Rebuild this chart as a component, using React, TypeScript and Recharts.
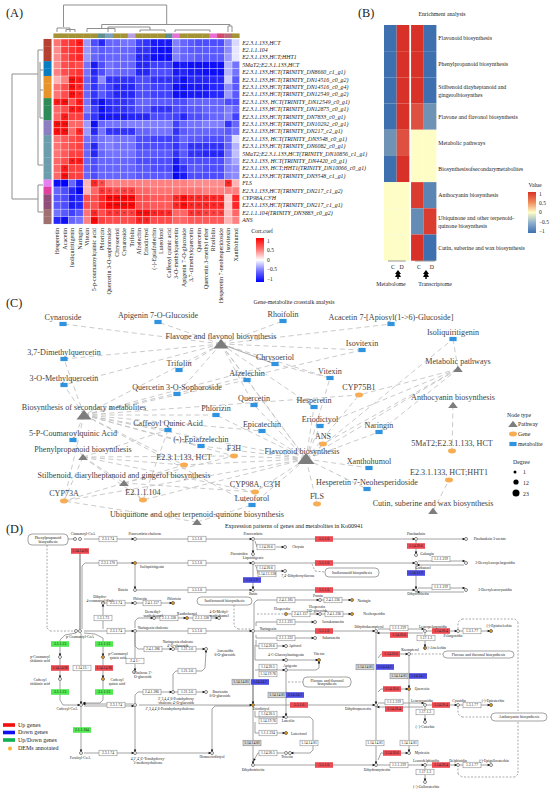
import { ReactNode } from 'react';
import { ReferenceLine, Scatter, ScatterChart, XAxis, YAxis } from 'recharts';

const SERIF = '"Liberation Serif", "Times New Roman", serif';
const CELL_W = 7.44;
const CELL_H = 7.4;

// ---- panel A: correlation heatmap
const metaboliteNames = [
  'Hesperetin', 'Acacetin', 'Isoliquiritigenin', 'Naringin', 'Vitexin', '5-p-coumaroylquinic acid', 'Phlorizin',
  'Quercetin 3-O-sophoroside', 'Chrysoeriol', 'Cynaroside', 'Trifolin', 'Afzelechin', 'Eriodictyol',
  '(-)-Epiafzelechin', 'Luteoforol', 'Caffeoyl quinic acid', '3-O-methylquercetin', 'Apigenin 7-O-glucoside',
  '3,7-dimethylquercetin', 'Quercetin', 'Quercetin 3-methyl ether', 'Rhoifolin', 'Hesperetin 7-neohesperidoside',
  'Isovitexin', 'Xanthohumol',
];
const geneNames = [
  'E2.3.1.133,HCT', 'E2.1.1.104', 'E2.3.1.133,HCT;HHT1', '5MaT2;E2.3.1.133,HCT',
  'E2.3.1.133,HCT(TRINITY_DN8660_c1_g1)', 'E2.3.1.133,HCT(TRINITY_DN14516_c0_g2)',
  'E2.3.1.133,HCT(TRINITY_DN14516_c0_g4)', 'E2.3.1.133,HCT(TRINITY_DN12549_c0_g2)',
  'E2.3.1.133, HCT(TRINITY_DN12549_c0_g1)', 'E2.3.1.133,HCT(TRINITY_DN12875_c0_g1)',
  'E2.3.1.133,HCT(TRINITY_DN7833_c0_g1)', 'E2.3.1.133,HCT(TRINITY_DN10292_c0_g1)',
  'E2.3.1.133,HCT(TRINITY_DN217_c2_g1)', 'E2.3.1.133, HCT(TRINITY_DN3548_c0_g1)',
  'E2.3.1.133,HCT(TRINITY_DN6082_c0_g1)', '5MaT2;E2.3.1.133,HCT(TRINITY_DN10856_c1_g1)',
  'E2.3.1.133, HCT(TRINITY_DN4420_c0_g1)', 'E2.3.1.133, HCT;HHT1(TRINITY_DN10066_c0_g1)',
  'E2.3.1.133,HCT(TRINITY_DN3548_c1_g1)', 'FLS', 'E2.3.1.133,HCT(TRINITY_DN217_c1_g2)', "CYP98A,C3'H",
  'E2.3.1.133,HCT(TRINITY_DN217_c1_g1)', 'E2.1.1.104(TRINITY_DN3883_c0_g2)', 'ANS',
];
const corrRows = [
  [.55, .75, .8, .9, -.4, -.7, -.85, -.6, -.6, -.55, -.55, -.75, -.8, -.9, -.9, -.9, -.5, -.6, -.65, -.7, -.7, -.7, -.7, -.45, -.15],
  [.45, .75, .8, .85, -.4, -.6, -.65, -.6, -.6, -.6, -.6, -.8, -.8, -.9, -.95, -.95, -.5, -.6, -.65, -.65, -.65, -.65, -.65, -.45, -.1],
  [.45, .7, .8, .85, -.4, -.6, -.65, -.6, -.6, -.6, -.6, -.85, -.85, -.95, -.95, -.95, -.5, -.6, -.6, -.65, -.65, -.65, -.65, -.4, -.1],
  [.45, .7, .75, .7, -.55, -.9, -.7, -.55, -.6, -.6, -.6, -.85, -.85, -.75, -.75, -.75, -.95, -.9, -.95, -.95, -.95, -.95, -.95, -.3, -.55],
  [.5, .7, .75, .8, -.55, -.85, -.7, -.55, -.6, -.6, -.6, -.85, -.85, -.7, -.7, -.7, -.9, -.85, -.9, -.9, -.95, -.95, -.95, -.3, -.55],
  [.3, .5, .95, .9, -.6, -.8, -.45, -.8, -.8, -.8, -.8, -.7, -.7, -.8, -.8, -.8, -.85, -.95, -.85, -.85, -.85, -.85, -.85, -.2, -.65],
  [.55, .7, .95, .85, -.6, -.8, -.65, -.75, -.85, -.85, -.85, -.7, -.7, -.75, -.75, -.75, -.95, -.95, -.9, -.9, -.9, -.85, -.85, -.45, -.65],
  [.55, .7, .95, .85, -.6, -.8, -.65, -.75, -.85, -.85, -.85, -.7, -.7, -.75, -.75, -.75, -.95, -.95, -.9, -.9, -.9, -.85, -.85, -.4, -.65],
  [.9, .95, .7, .9, -.55, -.85, -.95, -.8, -.8, -.8, -.75, -.6, -.6, -.65, -.65, -.65, -.7, -.7, -.6, -.6, -.6, -.6, -.6, -.7, -.7],
  [.6, .7, .9, .9, -.5, -.75, -.95, -.85, -.8, -.8, -.75, -.65, -.65, -.8, -.8, -.8, -.7, -.7, -.65, -.65, -.6, -.6, -.6, -.5, -.6],
  [.6, .9, .75, .75, -.65, -.8, -.95, -.9, -.9, -.9, -.85, -.85, -.85, -.7, -.7, -.7, -.75, -.85, -.7, -.7, -.65, -.6, -.6, -.5, -.75],
  [.95, .95, .6, .6, -.4, -.95, -.6, -.55, -.55, -.55, -.5, -.5, -.5, -.5, -.5, -.5, -.75, -.6, -.55, -.55, -.5, -.5, -.5, -.8, -.6],
  [.95, .95, .6, .85, -.4, -.85, -.55, -.8, -.8, -.8, -.8, -.6, -.6, -.55, -.55, -.55, -.8, -.65, -.6, -.6, -.6, -.6, -.6, -.65, -.55],
  [.55, .65, .7, .75, -.55, -.65, -.55, -.5, -.55, -.55, -.55, -.7, -.7, -.75, -.75, -.75, -.75, -.6, -.65, -.65, -.7, -.7, -.7, -.6, -.15],
  [.55, .65, .7, .75, -.6, -.85, -.55, -.5, -.55, -.55, -.55, -.7, -.7, -.7, -.7, -.7, -.8, -.65, -.8, -.8, -.8, -.8, -.8, -.6, -.3],
  [.55, .65, .75, .75, -.6, -.85, -.6, -.55, -.55, -.55, -.55, -.65, -.65, -.65, -.65, -.65, -.8, -.65, -.8, -.8, -.85, -.85, -.85, -.55, -.25],
  [.6, .7, .9, .9, -.6, -.7, -.6, -.6, -.6, -.6, -.6, -.7, -.7, -.7, -.7, -.7, -.9, -.7, -.7, -.7, -.7, -.7, -.7, -.5, -.35],
  [.6, .9, .75, .75, -.6, -.7, -.6, -.6, -.6, -.6, -.6, -.65, -.65, -.7, -.7, -.7, -.95, -.8, -.65, -.65, -.7, -.7, -.7, -.5, -.45],
  [.6, .95, .75, .75, -.6, -.7, -.6, -.6, -.6, -.6, -.6, -.65, -.65, -.65, -.65, -.65, -.98, -.9, -.7, -.7, -.7, -.7, -.7, -.5, -.45],
  [-.95, -1, -.6, -.9, .3, .85, .7, .5, .5, .5, .5, .5, .5, .5, .5, .5, .5, .5, .45, .45, .45, .45, .45, .85, .3],
  [-.6, -.7, -.85, -1, .3, .6, .8, .75, .7, .75, .75, .6, .6, .55, .55, .55, .55, .55, .55, .55, .5, .5, .5, .5, .5],
  [-.65, -.7, -.9, -.85, .7, .7, .85, .98, .98, .98, .98, .7, .7, .65, .65, .65, .85, .95, .85, .85, .85, .85, .85, .2, .85],
  [-.65, -.7, -.9, -.85, .7, .7, .85, .98, .98, .98, .98, .7, .7, .65, .65, .65, .85, .95, .85, .85, .85, .85, .85, .2, .85],
  [-.55, -.65, -.75, -.65, .55, .85, .7, .8, .8, .75, .75, .95, .95, .85, .85, .85, .6, .6, .8, .8, .75, .75, .75, .25, .6],
  [-.85, -.95, -.6, -.55, .5, .98, .75, .7, .7, .7, .7, .85, .85, .7, .7, .7, .6, .6, .65, .65, .65, .65, .65, .3, .5],
];
// number of significance stars per cell
const starRows = [
  '0001001000000111000000000', '0000000000011111000000000', '0000000000011111000000000',
  '0000010000011000111111100', '0000010000011000111111100', '0031000111100111121111100',
  '0021000011100000121110000', '0021000011100000121110000', '1201012111100000000000000',
  '0011002111100111000000000', '0100002222111000010000000', '2200020000000000000000000',
  '1201010111100000100000000', '0000000000000000000000000', '0000020000000000001111100',
  '0000010000000000101111100', '0011000000000000100000000', '0100000000000000110000000',
  '0200000000000000310000000', '1001011000000000000000010', '0012001111100000000000000',
  '0011000222200000121111100', '0011000333300000121111100', '0000010111122111001111100',
  '0100020000011000000000000',
];
const rowGroupColors = [
  '#b5402f', '#b5402f', '#b5402f', '#0a7cc0', '#0a7cc0', '#e8932a', '#e8932a', '#e8932a', '#2e8b57', '#2e8b57', '#2e8b57',
  '#8a7fc0', '#8a7fc0', '#6d9dad', '#6d9dad', '#6d9dad', '#6d9dad', '#6d9dad', '#6d9dad', '#e680f0', '#e040a0',
  '#8f4f7a', '#8f4f7a', '#a06f70', '#a06f70',
];
const OL = '#a39335';
const colGroupColors = [
  OL, OL, OL, OL, OL, OL, '#5f8f8f', '#7f9fc0', OL, OL, '#b9a0e0', OL, OL, OL, OL, '#5f8f8f', '#e870d8', OL, OL, OL, OL,
  '#e870d0', '#d04a6a', '#b86a7a', OL,
];
const dendroPaths = [
  [[63.5, 27], [63.5, 5], [166.7, 5], [166.7, 24.5]],
  [[57, 32], [57, 28], [70, 28], [70, 32]], [[66, 32], [66, 29.5], [75, 29.5], [75, 32]],
  [[101.7, 28.5], [101.7, 24.5], [230, 24.5], [230, 26]], [[87, 32], [87, 28.5], [115, 28.5], [115, 32]],
  [[108, 32], [108, 27], [150, 27], [150, 30]], [[140, 32], [140, 30], [165, 30], [165, 32]],
  [[175, 32], [175, 30], [210, 30], [210, 32]], [[228, 32], [228, 26], [232, 26], [232, 32]],
  [[38, 74], [12, 74], [12, 199], [38, 199]],
  [[38, 50], [38, 165]], [[38, 50], [43, 50]], [[38, 165], [43, 165]], [[40, 70], [43, 70]], [[40, 62], [40, 118]],
  [[40, 90], [43, 90]], [[40, 118], [43, 118]], [[38, 185], [38, 212]], [[38, 185], [43, 185]], [[38, 212], [43, 212]],
];

// ---- panel B: enrichment heatmap
const pathwayNames = [
  'Flavonoid biosynthesis', 'Phenylpropanoid biosynthesis', 'Stilbenoid diayheptanoid and\ngingerolbiosynthes',
  'Flavone and flavonol biosynthesis', 'Metabolic pathways', 'Biosynthesisofsecondarymetabolites',
  'Anthocyanin biosynthesis', 'Ubiquinone and other terpenoid-\nquinone biosynthesis', 'Cutin, suberine and wax biosynthesis',
];
const metabolomeC = [-1, -1, -1, -1, -.75, -1, 0, 0, 0];
const metabolomeD = [1, 1, 1, 1, .85, 1, 0, 0, 0];
const transcriptomeC = [1, 1, 1, .85, 0, 0, .95, -.8, 1];
const transcriptomeD = [-1, -1, -1, -.75, 0, 0, -.85, .95, -1];
const enrichColumns = [metabolomeC, metabolomeD, transcriptomeC, transcriptomeD];
const enrichColX = [.5, 1.5, 2.64, 3.64];
const enrichTickX = [.7, 1.4, 2.77, 3.79];
const enrichTickNames = ['C', 'D', 'C', 'D'];

// ---- panel C: network, [key, label, x, y]
const netMetabolites: [string, string, number, number][] = [
  ['cyn', 'Cynaroside', 63, 324], ['api', 'Apigenin 7-O-Glucoside', 158, 322], ['dmq', '3,7-Dimethylquercetin', 64, 359],
  ['tri', 'Trifolin', 179, 370], ['omq', '3-O-Methylquercetin', 64, 385], ['qso', 'Quercetin 3-O-Sophoroside', 177, 394],
  ['afz', 'Afzelechin', 247, 380], ['que', 'Quercetin', 254, 405], ['phl', 'Phlorizin', 216, 415],
  ['caf', 'Caffeoyl Quinic Acid', 168, 430], ['epi', 'Epicatechin', 262, 431], ['pcq', '5-P-Coumaroylquinic Acid', 73, 440],
  ['epz', '(-)-Epiafzelechin', 201, 446], ['luf', 'Luteoforol', 252, 505], ['rho', 'Rhoifolin', 283, 321],
  ['aca', 'Acacetin 7-[Apiosyl(1->6)-Glucoside]', 391, 324], ['isl', 'Isoliquiritigenin', 453, 339], ['isv', 'Isovitexin', 362, 350],
  ['chr', 'Chrysoeriol', 275, 364], ['vit', 'Vitexin', 330, 378], ['hes', 'Hesperetin', 314, 407],
  ['eri', 'Eriodictyol', 320, 426], ['nar', 'Naringin', 379, 432], ['xan', 'Xanthohumol', 369, 468],
  ['hnp', 'Hesperetin 7-Neohesperidoside', 367, 489],
];
const netGenes: [string, string, number, number][] = [
  ['c75', 'CYP75B1', 359, 395], ['ans', 'ANS', 323, 444], ['mat', '5MaT2;E2.3.1.133, HCT', 452, 451],
  ['hht', 'E2.3.1.133, HCT;HHT1', 449, 480], ['fls', 'FLS', 317, 504], ['f3h', 'F3H', 234, 456],
  ['hct', 'E2.3.1.133, HCT', 184, 465], ['c98', "CYP98A, C3'H", 255, 492], ['e04', 'E2.1.1.104', 143, 500],
  ['c73', 'CYP73A', 64, 501],
];
const netPathways: [string, string, number, number][] = [
  ['fla', 'Flavone and flavonol biosynthesis', 221, 344], ['bio', 'Biosynthesis of secondary metabolites', 84, 415],
  ['phe', 'Phenylpropanoid biosynthesis', 83, 457], ['sti', 'Stilbenoid, diarylheptanoid and gingerol biosynthesis', 124, 483],
  ['flo', 'Flavonoid biosynthesis', 306, 459], ['met', 'Metabolic pathways', 458, 369],
  ['ant', 'Anthocyanin biosynthesis', 453, 405], ['cut', 'Cutin, suberine and wax biosynthesis', 433, 511],
  ['ubi', 'Ubiquinone and other terpenoid-quinone biosynthesis', 197, 522],
];
const netEdges = [
  'fla-cyn', 'fla-api', 'fla-dmq', 'fla-omq', 'fla-tri', 'fla-qso', 'fla-afz', 'fla-rho', 'fla-aca', 'fla-que', 'fla-vit',
  'fla-bio', 'fla-hes', 'fla-isv', 'bio-dmq', 'bio-omq', 'bio-afz', 'bio-phl', 'bio-caf', 'bio-epi', 'bio-epz', 'bio-pcq',
  'bio-isv', 'bio-f3h', 'bio-hct', 'bio-chr', 'bio-c75', 'bio-flo', 'bio-c73', 'bio-luf', 'phe-c73', 'phe-pcq', 'phe-caf',
  'phe-e04', 'phe-sti', 'phe-c98', 'phe-hct', 'phe-f3h', 'sti-e04', 'sti-hct', 'sti-c98', 'sti-c73', 'sti-f3h', 'caf-e04',
  'flo-que', 'flo-afz', 'flo-hes', 'flo-eri', 'flo-ans', 'flo-c75', 'flo-vit', 'flo-xan', 'flo-hnp', 'flo-fls', 'flo-luf',
  'flo-c98', 'flo-f3h', 'flo-hct', 'flo-e04', 'flo-phl', 'flo-epi', 'flo-epz', 'flo-isl', 'flo-nar', 'flo-c73', 'flo-met',
  'met-isl', 'met-nar', 'met-ans', 'met-c75', 'met-eri', 'ant-mat', 'cut-hht', 'ubi-c73', 'ubi-luf', 'chr-vit', 'fla-flo',
];

// ---- panel D: pathway map, [label, kind, x, y]
const mapEnzymes: [string, string, number, number][] = [
  ['2.3.1.74', 'w', 108, 539], ['5.5.1.6', 'w', 197, 539], ['1.14.14.91', 'r', 80, 551], ['1.14.20.6', 'w', 266, 547],
  ['2.3.1.170', 'w', 108, 563], ['5.5.1.6', 'w', 197, 563], ['1.14.20.6', 'w', 266, 568], ['1.14.13.138', 'w', 267, 574],
  ['1.11.1.9', 'b', 252, 580], ['5.5.1.6', 'w', 197, 590], ['2.3.1.74', 'w', 116, 603], ['2.4.1.157', 'w', 152, 603],
  ['1.3.1.73', 'w', 103, 618], ['2.1.1.338', 'w', 169, 618], ['2.1.1.338', 'w', 202, 618], ['2.3.1.74', 'w', 116, 631],
  ['5.5.1.6', 'w', 197, 631], ['3.1.1.13', 'g', 60, 644], ['3.1.1.13', 'g', 104, 644], ['2.4.1.286', 'w', 153, 649],
  ['1.21.3.6', 'w', 187, 649], ['2.4.1.-', 'w', 135, 661], ['1.14.14.96', 'r', 60, 668], ['1.14.13.-', 'w', 82, 668],
  ['1.14.14.96', 'r', 104, 668], ['1.21.3.6', 'w', 187, 671], ['3.1.1.13', 'g', 60, 692], ['3.1.1.13', 'g', 104, 692],
  ['2.4.1.286', 'w', 152, 692], ['1.21.3.6', 'w', 187, 692], ['2.3.1.74', 'w', 116, 705], ['2.1.1.104', 'g', 82, 730],
  ['2.3.1.74', 'w', 108, 753], ['1.14.14.81', 'a', 241, 682], ['1.14.14.7', 'b', 260, 682], ['1.14.14.81', 'a', 252, 743],
  ['2.4.1.185', 'w', 286, 600], ['2.4.1.236', 'w', 333, 600], ['2.4.1.157', 'w', 301, 614], ['2.4.1.236', 'w', 334, 614],
  ['2.1.1.231', 'w', 286, 622], ['2.1.1.232', 'w', 286, 638], ['1.14.20.6', 'w', 268, 646], ['1.14.20.5', 'w', 268, 667],
  ['1.14.19.76', 'w', 268, 674], ['1.14.14.81', 'a', 277, 695], ['1.14.14.7', 'b', 295, 695], ['5.5.1.6', 'r', 299, 705],
  ['1.14.20.5', 'w', 268, 714], ['1.14.19.76', 'w', 268, 721], ['1.1.1.234', 'w', 268, 733], ['1.14.14.81', 'w', 309, 743],
  ['1.14.20.5', 'w', 268, 753], ['5.5.1.6', 'r', 324, 539], ['5.5.1.6', 'r', 324, 563], ['5.5.1.6', 'r', 324, 590],
  ['5.5.1.6', 'r', 324, 631], ['5.5.1.6', 'r', 324, 765], ['1.14.20.6', 'r', 416, 546], ['1.1.1.219', 'w', 441, 559],
  ['1.14.11.9', 'b', 416, 573], ['1.1.1.219', 'w', 441, 587], ['1.1.1.219', 'w', 399, 628], ['1.14.20.6', 'r', 399, 635],
  ['1.14.20.4', 'r', 441, 631], ['1.3.1.77', 'w', 472, 631], ['1.17.1.3', 'w', 426, 638], ['1.14.20.6', 'r', 391, 654],
  ['1.14.14.81', 'a', 365, 667], ['1.14.14.7', 'b', 385, 667], ['1.14.14.81', 'a', 399, 676], ['1.14.14.7', 'b', 418, 676],
  ['1.14.20.6', 'r', 392, 689], ['1.1.1.219', 'w', 394, 702], ['1.14.20.4', 'r', 394, 709], ['1.14.20.4', 'r', 441, 705],
  ['1.3.1.77', 'w', 472, 705], ['1.17.1.3', 'w', 425, 712], ['1.14.14.81', 'w', 375, 743], ['1.14.14.81', 'w', 409, 743],
  ['1.14.20.6', 'r', 392, 753], ['1.1.1.219', 'w', 399, 765], ['1.14.20.4', 'r', 441, 765], ['1.3.1.77', 'w', 472, 765],
  ['1.17.1.3', 'w', 425, 772],
];
const mapCompounds: [number, number][] = [
  [75, 539], [80, 539], [135, 539], [253, 539], [253, 554], [253, 563], [135, 590], [253, 590], [103, 603], [135, 603],
  [154, 618], [219, 618], [76, 631], [80, 631], [135, 631], [253, 631], [173, 649], [206, 649], [60, 657], [134, 672],
  [60, 679], [81, 705], [135, 705], [173, 692], [206, 692], [81, 753], [135, 753], [212, 753], [253, 765], [320, 600],
  [320, 614], [315, 622], [315, 638], [286, 646], [286, 660], [286, 670], [286, 717], [286, 753], [290, 753], [285, 547],
  [285, 571], [376, 631], [425, 631], [458, 631], [409, 654], [416, 539], [466, 539], [416, 555], [416, 563], [466, 563],
  [416, 590], [466, 590], [376, 705], [425, 705], [458, 705], [425, 722], [376, 765], [409, 753], [425, 765], [458, 765],
  [491, 765], [425, 782],
];
const mapDems: [number, number][] = [
  [135, 563], [173, 603], [187, 618], [103, 657], [103, 679], [253, 705], [286, 614], [352, 600], [352, 614], [319, 660],
  [286, 733], [491, 631], [425, 648], [409, 689], [491, 705],
];
const mapCompoundNames: [string, number, number][] = [
  ['Cinnamoyl-CoA', 83, 534], ['Pinocembrin chalcone', 145, 534], ['Pinocembrin', 253, 534], ['Pinostrobin', 239, 554],
  ['Liquiritigenin', 253, 558], ['Isoliquiritigenin', 152, 567], ['Butein', 123, 590], ['Butin', 253, 594],
  ['Dihydro-\n4-coumaroyl-CoA', 100, 597], ['Phloretin', 140, 599], ['Phlorizin', 174, 599], ['Demethyl-\nxanthohumol', 153, 612],
  ['Xanthohumol', 187, 614], ['4-O-Methyl-\nxanthohumol', 219, 612], ['Naringenin chalcone', 153, 628], ['p-Coumaroyl-CoA', 80, 637],
  ['Naringenin chalcone\n4\'-O-glucoside', 178, 642], ['Aureusidin\n6-O-glucoside', 225, 651], ['p-Coumaroyl\nshikimic acid', 40, 657],
  ['p-Coumaroyl\nquinic acid', 118, 654], ['Chalcone 2\'-\nO-glucoside', 143, 673], ['Caffeoyl\nshikimic acid', 40, 680],
  ['Caffeoyl\nquinic acid', 117, 680], ['Caffeoyl-CoA', 67, 709], ["2',3,4,4',6-Pentahydroxychalcone", 170, 709],
  ['Bracteatin\n6-O-glucoside', 220, 692], ["2',3,4,4',6-Pentahydroxy\n-chalcone 4'-O-glucoside", 176, 699], ['Feruloyl-CoA', 80, 758],
  ["4,2',4',6'-Tetrahydroxy-\n3-methoxychalcone", 148, 759], ['Homoeriodictyol', 212, 757], ['Naringenin', 268, 629],
  ['Prunin', 318, 596], ['Naringin', 364, 601], ['Hesperetin', 282, 609], ['Hesperetin\n7-O-glucoside', 317, 607],
  ['Neohesperidin', 374, 614], ['Isosakuranetin', 333, 622], ['Sakuranetin', 331, 638], ['Apiforol', 295, 646],
  ['4-C-Glucosylnaringenin', 286, 655], ['Vitexin', 319, 654], ['Apigenin', 290, 666], ['Eriodictyol', 261, 709],
  ['Luteolin', 288, 721], ['Luteoforol', 299, 734], ['Tricetin', 287, 757], ['Dihydrotricetin', 253, 770],
  ['Chrysin', 298, 547], ["7,4'-Dihydroxyflavone", 298, 576], ['Pinobanksin', 416, 534], ['Pinobanksin 3-acetate', 490, 539],
  ['Galangin', 427, 554], ['Garbanzol', 423, 568], ['3-Deoxyleucopelargonidin', 495, 563], ['Dihydrofisetin', 418, 594],
  ['3-Deoxyleucocyanidin', 495, 590], ['Dihydrokaempferol', 369, 627], ['Leucopelargonidin', 433, 627], ['Pelargonidin', 453, 636],
  ['(-)-Epiafzelechin', 499, 626], ['(+)-Afzelechin', 435, 648], ['Kaempferol', 410, 650], ['Quercetin', 422, 689],
  ['Dihydroquercetin', 358, 709], ['Leucocyanidin', 422, 701], ['Cyanidin', 459, 701], ['(-)-Epicatechin', 493, 701],
  ['(+)-Catechin', 425, 727], ['Myricetin', 422, 753], ['Dihydromyricetin', 377, 770], ['Leucodelphinidin', 426, 761],
  ['Delphinidin', 458, 761], ['(-)-Epigallocatechin', 494, 761], ['(+)-Gallocatechin', 426, 787],
];
const mapLinks: [string, number, number, number, number][] = [
  ['Phenylpropanoid\nbiosynthesis', 28, 534, 68, 545], ['Isoflavonoid biosynthesis', 197, 597, 252, 605],
  ['Isoflavonoid biosynthesis', 325, 568, 379, 577], ['Flavone and flavonol\nbiosynthesis', 303, 677, 351, 687],
  ['Flavone and flavonol biosynthesis', 443, 651, 514, 658], ['Anthocyanin biosynthesis', 491, 713, 547, 721],
];
const mapArrowPaths = [
  [[84, 539], [133, 539]], [[137, 539], [251, 539]], [[253, 541], [253, 552]], [[255, 539], [414, 539]], [[418, 539], [464, 539]],
  [[416, 541], [416, 553]], [[416, 565], [416, 588]], [[418, 561], [464, 561]], [[464, 565], [418, 565]], [[418, 588], [464, 588]],
  [[464, 592], [418, 592]], [[82, 629], [82, 566], [85, 563], [133, 563]], [[137, 563], [251, 563]], [[255, 563], [414, 563]],
  [[135, 565], [135, 588]], [[137, 590], [251, 590]], [[255, 590], [414, 590]], [[253, 565], [253, 588]], [[103, 629], [103, 605]],
  [[105, 603], [133, 603]], [[137, 603], [171, 603]], [[135, 628], [135, 621], [138, 618], [152, 618]], [[156, 618], [185, 618]],
  [[189, 618], [217, 618]], [[135, 633], [135, 646], [138, 649], [171, 649]], [[175, 649], [204, 649]], [[84, 631], [133, 631]],
  [[137, 631], [251, 631]], [[255, 631], [374, 631]], [[378, 629], [423, 629]], [[423, 633], [378, 633]], [[427, 631], [456, 631]],
  [[460, 631], [489, 631]], [[425, 633], [425, 646]], [[254, 629], [254, 603], [257, 600], [318, 600]], [[322, 600], [350, 600]],
  [[288, 614], [318, 614]], [[322, 614], [350, 614]], [[256, 626], [256, 622], [313, 622]], [[256, 635], [256, 638], [313, 638]],
  [[256, 640], [256, 646], [284, 646]], [[255, 645], [255, 660], [284, 660]], [[288, 660], [317, 660]], [[288, 670], [316, 670], [319, 668], [319, 662]],
  [[255, 670], [284, 670]], [[286, 672], [286, 715]], [[253, 633], [253, 703]], [[255, 705], [374, 705]], [[253, 707], [253, 763]],
  [[251, 706], [215, 706], [212, 709], [212, 751]], [[255, 711], [255, 717], [284, 717]], [[255, 722], [255, 733], [284, 733]],
  [[288, 717], [310, 717], [313, 720], [313, 750], [310, 753], [292, 753]], [[255, 765], [374, 765]], [[378, 703], [423, 703]],
  [[423, 707], [378, 707]], [[427, 705], [456, 705]], [[460, 705], [489, 705]], [[425, 707], [425, 720]], [[376, 633], [376, 703]],
  [[376, 707], [376, 763]], [[409, 656], [409, 687]], [[409, 691], [409, 751]], [[378, 658], [381, 654], [407, 654]],
  [[378, 692], [381, 689], [407, 689]], [[378, 760], [381, 753], [407, 753]], [[378, 765], [423, 765]], [[427, 765], [456, 765]],
  [[460, 765], [489, 765]], [[425, 767], [425, 780]], [[60, 659], [60, 677]], [[103, 659], [103, 677]],
  [[76, 633], [65, 635], [60, 640], [60, 655]], [[84, 633], [95, 634], [103, 638], [103, 655]],
  [[60, 681], [60, 700], [63, 705], [79, 705]], [[103, 681], [103, 700], [100, 703], [84, 703]], [[84, 706], [133, 706]],
  [[133, 704], [84, 704]], [[139, 705], [251, 705]], [[135, 633], [135, 670]], [[81, 633], [81, 703]], [[81, 707], [81, 751]],
  [[84, 753], [133, 753]], [[137, 753], [210, 753]], [[135, 707], [135, 751]], [[135, 703], [135, 695], [138, 692], [171, 692]],
  [[175, 692], [204, 692]], [[173, 690], [173, 674], [176, 671], [202, 671], [205, 668], [206, 651]], [[276, 547], [283, 547]],
  [[276, 571], [283, 571]], [[284, 753], [258, 753], [254, 760]],
];
const mapPlainPaths = [
  [[68, 539], [75, 539]], [[255, 541], [257, 547], [264, 547]], [[255, 565], [257, 568], [258, 574]],
];
const mapThickPaths = [[[253, 633], [253, 703]], [[80, 553], [80, 629]]];
const mapDashedPaths = [
  [[47, 545], [47, 628], [50, 631], [74, 631]], [[234, 605], [234, 626], [238, 629], [251, 629]], [[257, 614], [284, 614]],
  [[288, 682], [303, 682]], [[411, 654], [443, 654]], [[312, 564], [315, 571], [325, 572]],
  [[458, 707], [458, 714], [462, 717], [491, 717]], [[458, 629], [458, 622], [462, 619], [515, 619], [518, 622], [518, 711]],
  [[518, 722], [518, 774], [515, 777], [462, 777], [458, 774], [458, 767]],
];

// ---- captions and legends
const captions: [string, number, number, number, string][] = [
  ['(A)', 6, 13, 12.3, 'start'], ['(B)', 358, 13, 12.3, 'start'], ['(C)', 6, 303, 12.3, 'start'], ['(D)', 6, 529, 12.3, 'start'],
  ['Enrichment analysis', 442, 14.5, 5.8, 'middle'], ['Corr.coef', 262, 231, 5.8, 'middle'], ['Value', 535, 185, 5.8, 'middle'],
  ['Metabolome', 391, 284, 5.8, 'middle'], ['Transcriptome', 435, 284, 5.8, 'middle'],
  ['Gene-metabolite crosstalk analysis', 294, 302, 5.8, 'middle'], ['Node type', 507, 415, 5.8, 'start'], ['Pathway', 518, 424, 5.8, 'start'],
  ['Gene', 518, 434, 5.8, 'start'], ['metabolite', 518, 444, 5.8, 'start'], ['Degree', 513, 462, 5.8, 'start'], ['1', 523, 472, 5.8, 'start'],
  ['12', 523, 483, 5.8, 'start'], ['23', 523, 494, 5.8, 'start'],
  ['Expression patterns of genes and metabolites in Ko00941', 294, 526, 6, 'middle'],
  ['Up genes', 18, 725, 6, 'start'], ['Down genes', 18, 732.5, 6, 'start'], ['Up/Down genes', 18, 740, 6, 'start'], ['DEMs annotated', 18, 748.5, 6, 'start'],
];

const red2blue = (v: number) => {
  const k = Math.round(255 * (1 - Math.min(1, Math.abs(v))));
  return v >= 0 ? `rgb(255,${k},${k})` : `rgb(${k},${k},255)`;
};
const mix = (a: number[], b: number[], t: number) => `rgb(${a.map((c, i) => Math.round(c + (b[i] - c) * t)).join(',')})`;
const enrichColor = (v: number) =>
  v >= 0 ? mix([253, 253, 197], [216, 50, 40], v) : mix([253, 253, 197], [62, 112, 176], -v);

const toSegments = (paths: number[][][]) =>
  paths.flatMap((p) => p.slice(1).map((pt, i) => [p[i], pt]));

const HeatCell = ({ cx, cy, payload }: any) => (
  <g>
    <rect x={cx - CELL_W / 2} y={cy - CELL_H / 2} width={CELL_W} height={CELL_H} fill={red2blue(payload.v)} stroke="#fff" strokeOpacity={0.45} strokeWidth={0.6} />
    {payload.s > 0 && (
      <text x={cx} y={cy + 1.8} textAnchor="middle" fontSize={payload.s > 2 ? 4 : 5} fill="#333" fontFamily={SERIF}>{'*'.repeat(payload.s)}</text>
    )}
  </g>
);
const GroupCell = ({ cx, cy, payload }: any) => (
  <rect x={cx - payload.w / 2} y={cy - payload.h / 2} width={payload.w} height={payload.h} fill={payload.c} />
);
const EnrichCell = ({ cx, cy, payload }: any) => (
  <rect x={cx - 6.33} y={cy - 13.1} width={12.66} height={26.2} fill={enrichColor(payload.v)} />
);
const TextMark = ({ cx, cy, payload }: any) => {
  const lines = String(payload.t).split('\n');
  return (
    <text x={cx} y={cy} textAnchor={payload.anchor ?? 'middle'} fontFamily={SERIF} fontSize={payload.size} fill={payload.fill ?? '#222'}>
      {lines.map((l, i) => (
        <tspan key={i} x={cx} dy={i === 0 ? payload.size * 0.33 : payload.size * 0.95}>{l}</tspan>
      ))}
    </text>
  );
};
const Triangle = ({ cx, cy, r = 7 }: any) => (
  <path d={`M${cx},${cy - r * 0.7} L${cx + r},${cy + r * 0.6} L${cx - r},${cy + r * 0.6} Z`} fill="#7d7d7d" />
);
const NetMark = ({ cx, cy, payload }: any) => {
  if (payload.kind === 'm') return <rect x={cx - 3.6} y={cy - 2.1} width={7.2} height={4.2} fill="#2f93e0" />;
  if (payload.kind === 'g') return <ellipse cx={cx} cy={cy} rx={4} ry={2.4} fill="#f7ad54" />;
  return <Triangle cx={cx} cy={cy} r={payload.key === 'flo' ? 8.5 : payload.key === 'fla' || payload.key === 'bio' ? 7.5 : 4.8} />;
};
const DegreeDot = ({ cx, cy, payload }: any) => <circle cx={cx} cy={cy} r={payload.r} fill="#000" />;
const TreeMark = ({ cx, cy }: any) => (
  <path d={`M${cx},${cy - 5} L${cx + 3},${cy - 1} L${cx + 1.4},${cy - 1} L${cx + 3},${cy + 2} L${cx + 0.7},${cy + 2} L${cx + 0.7},${cy + 4} L${cx - 0.7},${cy + 4} L${cx - 0.7},${cy + 2} L${cx - 3},${cy + 2} L${cx - 1.4},${cy - 1} L${cx - 3},${cy - 1} Z`} fill="#000" />
);
const EnzymeMark = ({ cx, cy, payload }: any) => {
  const fills: Record<string, string> = { w: '#fff', r: '#ec4a52', b: '#4a4ae0', g: '#52e852', a: '#d6d6d6' };
  return (
    <g>
      <rect x={cx - 9} y={cy - 2.8} width={18} height={5.6} fill={fills[payload.kind]} stroke={payload.kind === 'w' || payload.kind === 'a' ? '#777' : 'none'} strokeWidth={0.5} />
      <text x={cx} y={cy + 1.3} textAnchor="middle" fontSize={3.7} fontFamily={SERIF} fill="#222">{payload.t}</text>
    </g>
  );
};
const CompoundMark = ({ cx, cy, payload }: any) => (
  <circle cx={cx} cy={cy} r={1.5} fill={payload.dem ? '#f5a623' : '#fff'} stroke="#333" strokeWidth={0.6} />
);
const LinkMark = ({ cx, cy, payload }: any) => (
  <rect x={cx - payload.w / 2} y={cy - payload.h / 2} width={payload.w} height={payload.h} rx={4} fill="#fff" stroke="#666" strokeWidth={0.6} />
);
const ArrowMark = ({ cx, cy, payload }: any) => (
  <path d="M1.6,0 L-1.4,1.2 L-1.4,-1.2 Z" transform={`translate(${cx},${cy}) rotate(${payload.angle})`} fill="#111" />
);
const SwatchMark = ({ cx, cy, payload }: any) => <rect x={cx - 6} y={cy - 1.8} width={12} height={3.6} fill={payload.c} />;
const DemDot = ({ cx, cy }: any) => <circle cx={cx} cy={cy} r={2} fill="#f9b233" />;
const GradientBar = ({ cx, cy, payload }: any) => (
  <rect x={cx - 4} y={cy - payload.h / 2} width={8} height={payload.h} fill={`url(#${payload.id})`} />
);

// Full page chart whose axes run in page pixels; the network and the map live in it.
function PageChart({ children }: { children: ReactNode }) {
  return (
    <div style={{ position: 'absolute', left: 0, top: 0 }}>
      <ScatterChart width={550} height={792} margin={{ top: 0, right: 0, bottom: 0, left: 0 }}>
        <XAxis type="number" dataKey="x" domain={[0, 550]} hide />
        <YAxis type="number" dataKey="y" domain={[0, 792]} reversed hide />
        {children}
      </ScatterChart>
    </div>
  );
}

const RowTick = ({ x, y, payload }: any) => (
  <text x={x - 5.3} y={y + 1.9} fontFamily={SERIF} fontStyle="italic" fontSize={5.85} fill="#222">
    {geneNames[Math.floor(payload.value)]}
  </text>
);
const ColTick = ({ x, y, payload }: any) => (
  <text transform={`rotate(-90 ${x + 2} ${y - 4})`} x={x + 2} y={y - 4} textAnchor="end" fontFamily={SERIF} fontSize={6.1} fill="#222">
    {metaboliteNames[Math.floor(payload.value)]}
  </text>
);

function CorrHeatmap() {
  const cells = corrRows.flatMap((row, r) => row.map((v, c) => ({ x: c + .5, y: r + .5, v, s: Number(starRows[r][c]) })));
  const groups = [
    ...rowGroupColors.map((c, i) => ({ x: -0.8, y: i + .5, c, w: 8, h: CELL_H + .2 })),
    ...colGroupColors.map((c, i) => ({ x: i + .5, y: -0.45, c, w: CELL_W + .2, h: 4.6 })),
  ];
  return (
    <div style={{ position: 'absolute', left: 0, top: 0 }}>
      <ScatterChart width={380} height={310} margin={{ top: 32.4, right: 0, bottom: 0, left: 42.7 }}>
        <XAxis type="number" dataKey="x" domain={[-1.45, 25]} ticks={metaboliteNames.map((_, i) => i + .5)} interval={0} height={86} axisLine={false} tickLine={false} tick={<ColTick />} />
        <YAxis type="number" dataKey="y" orientation="right" reversed domain={[-0.9, 25]} ticks={geneNames.map((_, i) => i + .5)} interval={0} width={140.5} axisLine={false} tickLine={false} tick={<RowTick />} />
        <Scatter data={cells} shape={HeatCell} isAnimationActive={false} />
        <Scatter data={groups} shape={GroupCell} isAnimationActive={false} />
      </ScatterChart>
    </div>
  );
}

const EnrichRowTick = ({ x, y, payload }: any) => {
  const lines = pathwayNames[Math.floor(payload.value)].split('\n');
  return (
    <text x={x} y={y} fontFamily={SERIF} fontSize={5.8} fill="#222">
      {lines.map((l, i) => (
        <tspan key={i} x={x - 6} dy={i === 0 ? (lines.length > 1 ? -1.5 : 2) : 8}>{l}</tspan>
      ))}
    </text>
  );
};
const EnrichColTick = ({ x, y, payload }: any) => (
  <text x={x} y={y + 0.5} textAnchor="middle" fontFamily={SERIF} fontSize={5.8} fill="#222">
    {enrichTickNames[enrichTickX.indexOf(payload.value)]}
  </text>
);

function EnrichHeatmap() {
  const cells = enrichColumns.flatMap((col, c) => col.map((v, r) => ({ x: enrichColX[c], y: r + .5, v })));
  return (
    <div style={{ position: 'absolute', left: 384, top: 25 }}>
      <ScatterChart width={166} height={250} margin={{ top: 0, right: 0, bottom: 0, left: 0 }}>
        <XAxis type="number" dataKey="x" domain={[0, 4.134]} ticks={enrichTickX} interval={0} height={14.3} axisLine={false} tickLine={false} tick={<EnrichColTick />} />
        <YAxis type="number" dataKey="y" orientation="right" reversed domain={[0, 9]} ticks={pathwayNames.map((_, i) => i + .5)} interval={0} width={113.7} axisLine={false} tickLine={false} tick={<EnrichRowTick />} />
        <Scatter data={cells} shape={EnrichCell} isAnimationActive={false} />
      </ScatterChart>
    </div>
  );
}

const BarTick = ({ x, y, payload }: any) => (
  <text x={x - 5} y={y + 1.9} fontFamily={SERIF} fontSize={5.5} fill="#222">{String(payload.value).replace('-', '\u2212')}</text>
);

function ColorBar({ id, left, top, height, limit, stops }: { id: string; left: number; top: number; height: number; limit: number; stops: string[] }) {
  return (
    <div style={{ position: 'absolute', left, top }}>
      <ScatterChart width={30} height={height} margin={{ top: 0, right: 0, bottom: 0, left: 0 }}>
        <defs>
          <linearGradient id={id} x1="0" y1="0" x2="0" y2="1">
            {stops.map((c, i) => <stop key={c} offset={`${(i / (stops.length - 1)) * 100}%`} stopColor={c} />)}
          </linearGradient>
        </defs>
        <XAxis type="number" dataKey="x" domain={[0, 1]} hide />
        <YAxis type="number" dataKey="y" orientation="right" domain={[-limit, limit]} ticks={[-1, -.5, 0, .5, 1]} interval={0} width={22} axisLine={false} tickLine={false} tick={<BarTick />} />
        <Scatter data={[{ x: .5, y: 0, id, h: height }]} shape={GradientBar} isAnimationActive={false} />
      </ScatterChart>
    </div>
  );
}

function AnnotationLayer() {
  const lines = toSegments(dendroPaths);
  const brackets = toSegments([[[388, 261], [405.7, 261]], [[415, 261], [435, 261]]]);
  return (
    <PageChart>
      {lines.map(([a, b], i) => (
        <ReferenceLine key={i} segment={[{ x: a[0], y: a[1] }, { x: b[0], y: b[1] }]} stroke="#8f8f8f" strokeWidth={1} />
      ))}
      {brackets.map(([a, b], i) => (
        <ReferenceLine key={`b${i}`} segment={[{ x: a[0], y: a[1] }, { x: b[0], y: b[1] }]} stroke="#555" strokeWidth={0.6} />
      ))}
      <Scatter data={[{ x: 398, y: 275 }, { x: 426, y: 275 }]} shape={TreeMark} isAnimationActive={false} />
      <Scatter
        data={captions.map(([t, x, y, size, anchor]) => ({ t, x, y, size, anchor }))}
        shape={TextMark}
        isAnimationActive={false}
      />
    </PageChart>
  );
}

function NetworkPanel() {
  const nodes = [
    ...netMetabolites.map(([key, t, x, y]) => ({ key, t, x, y, kind: 'm' })),
    ...netGenes.map(([key, t, x, y]) => ({ key, t, x, y, kind: 'g' })),
    ...netPathways.map(([key, t, x, y]) => ({ key, t, x, y, kind: 'p' })),
  ];
  const byKey = new Map(nodes.map((n) => [n.key, n]));
  const labels = nodes.map((n) => ({ t: n.t, x: n.key === 'flo' ? 302 : n.x, y: n.y - (n.kind === 'm' ? 7 : 8), size: 8.1, fill: '#444' }));
  const legend = [{ x: 513, y: 424, kind: 'p', key: 'lp' }, { x: 513, y: 434, kind: 'g', key: 'lg' }, { x: 513, y: 444, kind: 'm', key: 'lm' }];
  return (
    <PageChart>
      {netEdges.map((e) => {
        const [a, b] = e.split('-').map((k) => byKey.get(k)!);
        return (
          <ReferenceLine key={e} segment={[{ x: a.x, y: a.y }, { x: b.x, y: b.y }]} stroke="#c4c4c4" strokeWidth={0.9} strokeDasharray="5 3.5" />
        );
      })}
      <ReferenceLine segment={[{ x: 221, y: 344 }, { x: 275, y: 364 }]} stroke="#adadad" strokeWidth={1.1} />
      <Scatter data={nodes} shape={NetMark} isAnimationActive={false} />
      <Scatter data={labels} shape={TextMark} isAnimationActive={false} />
      <Scatter data={legend} shape={NetMark} isAnimationActive={false} />
      <Scatter data={[{ x: 515, y: 472, r: 1.5 }, { x: 516, y: 482, r: 2.6 }, { x: 516, y: 493, r: 3.5 }]} shape={DegreeDot} isAnimationActive={false} />
    </PageChart>
  );
}

function PathwayMapPanel() {
  const arrows = mapArrowPaths.map((p) => {
    const [a, b] = p.slice(-2);
    return { x: b[0], y: b[1], angle: (Math.atan2(b[1] - a[1], b[0] - a[0]) * 180) / Math.PI };
  });
  const segs = toSegments([...mapArrowPaths, ...mapPlainPaths]);
  const thick = toSegments(mapThickPaths);
  const dashed = toSegments(mapDashedPaths);
  const links = mapLinks.map(([t, x0, y0, x1, y1]) => ({ t, x: (x0 + x1) / 2, y: (y0 + y1) / 2, w: x1 - x0, h: y1 - y0 }));
  const linkText = links.map((l) => ({ t: l.t, x: l.x, y: l.t.includes('\n') ? l.y - 1.7 : l.y, size: 3.9 }));
  return (
    <PageChart>
      {segs.map(([a, b], i) => (
        <ReferenceLine key={`s${i}`} segment={[{ x: a[0], y: a[1] }, { x: b[0], y: b[1] }]} stroke="#8a8a8a" strokeWidth={0.8} />
      ))}
      {thick.map(([a, b], i) => (
        <ReferenceLine key={`t${i}`} segment={[{ x: a[0], y: a[1] }, { x: b[0], y: b[1] }]} stroke="#ababab" strokeWidth={1.8} />
      ))}
      {dashed.map(([a, b], i) => (
        <ReferenceLine key={`d${i}`} segment={[{ x: a[0], y: a[1] }, { x: b[0], y: b[1] }]} stroke="#888" strokeWidth={0.7} strokeDasharray="2 1.5" />
      ))}
      <Scatter data={arrows} shape={ArrowMark} isAnimationActive={false} />
      <Scatter data={links} shape={LinkMark} isAnimationActive={false} />
      <Scatter data={linkText} shape={TextMark} isAnimationActive={false} />
      <Scatter data={mapEnzymes.map(([t, kind, x, y]) => ({ t, kind, x, y }))} shape={EnzymeMark} isAnimationActive={false} />
      <Scatter data={mapCompounds.map(([x, y]) => ({ x, y }))} shape={CompoundMark} isAnimationActive={false} />
      <Scatter data={mapDems.map(([x, y]) => ({ x, y, dem: true }))} shape={CompoundMark} isAnimationActive={false} />
      <Scatter data={mapCompoundNames.map(([t, x, y]) => ({ t, x, y, size: 3.7 }))} shape={TextMark} isAnimationActive={false} />
      <Scatter data={[{ x: 9, y: 725, c: '#f01010' }, { x: 9, y: 732.5, c: '#1010f0' }, { x: 9, y: 740, c: '#10b050' }]} shape={SwatchMark} isAnimationActive={false} />
      <Scatter data={[{ x: 10, y: 748.5 }]} shape={DemDot} isAnimationActive={false} />
    </PageChart>
  );
}

export default function App() {
  return (
    <div style={{ position: 'absolute', left: 0, top: 0, width: 550, height: 792, background: '#fff', overflow: 'hidden' }}>
      <NetworkPanel />
      <PathwayMapPanel />
      <CorrHeatmap />
      <EnrichHeatmap />
      <AnnotationLayer />
      <ColorBar id="corrGrad" left={256} top={238} height={44} limit={1.158} stops={['#ff0000', '#ff7070', '#ffffff', '#7070ff', '#0000ff']} />
      <ColorBar id="valueGrad" left={528} top={192} height={41} limit={1.1} stops={['#d83228', '#f08a5a', '#fdfdc5', '#8fb0cf', '#3e70b0']} />
    </div>
  );
}
